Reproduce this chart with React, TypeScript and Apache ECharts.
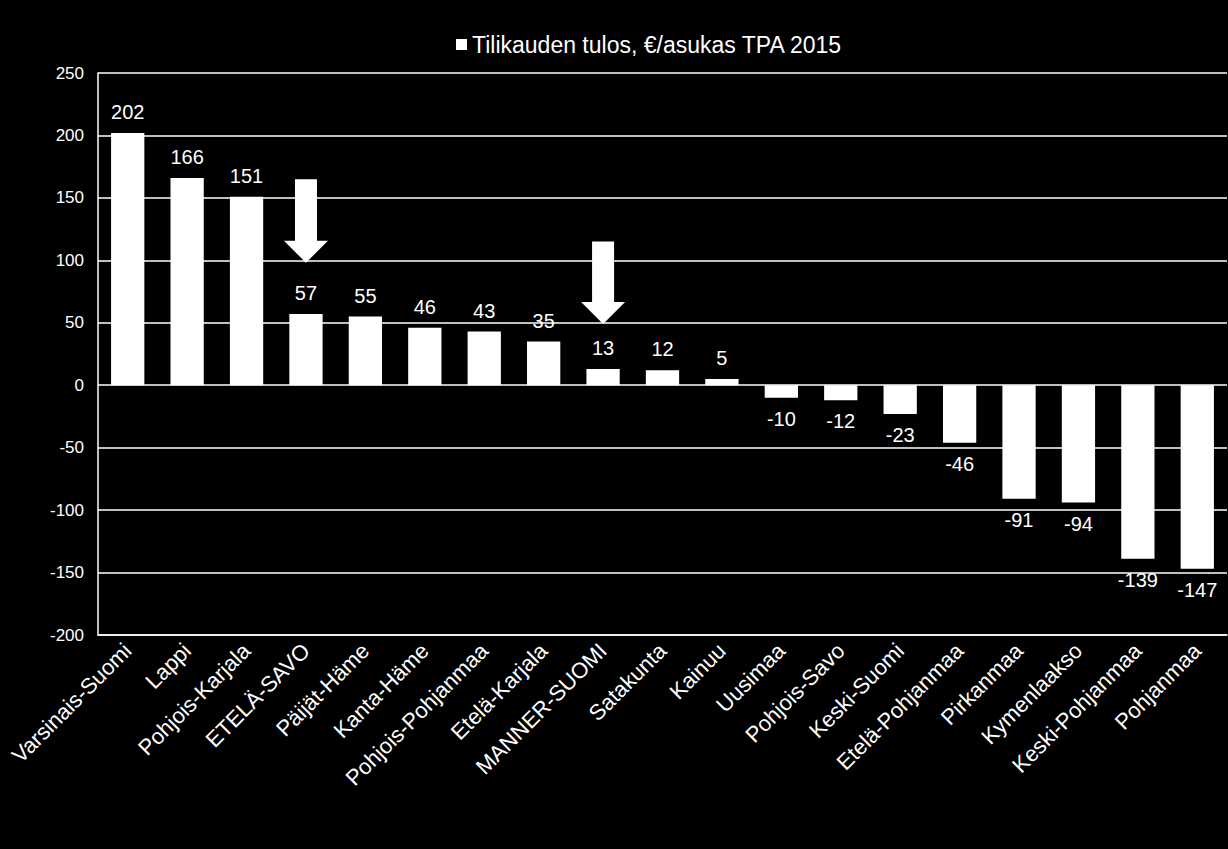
import React, { useEffect, useRef } from "react";
import * as echarts from "echarts";

const categories = [
  "Varsinais-Suomi", "Lappi", "Pohjois-Karjala", "ETELÄ-SAVO", "Päijät-Häme",
  "Kanta-Häme", "Pohjois-Pohjanmaa", "Etelä-Karjala", "MANNER-SUOMI", "Satakunta",
  "Kainuu", "Uusimaa", "Pohjois-Savo", "Keski-Suomi", "Etelä-Pohjanmaa",
  "Pirkanmaa", "Kymenlaakso", "Keski-Pohjanmaa", "Pohjanmaa",
];
const values = [202, 166, 151, 57, 55, 46, 43, 35, 13, 12, 5, -10, -12, -23, -46, -91, -94, -139, -147];
const seriesName = "Tilikauden tulos, €/asukas TPA 2015";
const yTicks = { min: -200, max: 250, interval: 50 };
// arrows: [category, top value, tip value]
const arrows: [string, number, number][] = [
  ["ETELÄ-SAVO", 165, 98],
  ["MANNER-SUOMI", 115, 49],
];

const FONT = "Liberation Sans, Arial, sans-serif";

export default function App() {
  const ref = useRef<HTMLDivElement>(null);
  useEffect(() => {
    if (!ref.current) return;
    const chart = echarts.init(ref.current, null, { renderer: "svg" });
    chart.setOption({
      animation: false,
      backgroundColor: "#000000",
      textStyle: { fontFamily: FONT },
      legend: {
        top: 28,
        left: 451,
        icon: "rect",
        itemWidth: 11,
        itemHeight: 11,
        itemGap: 6,
        textStyle: { color: "#ffffff", fontSize: 23, fontFamily: FONT },
        data: [seriesName],
      },
      grid: { left: 98, right: 1, top: 73, bottom: 214, containLabel: false },
      xAxis: {
        type: "category",
        data: categories,
        position: "bottom",
        axisLine: { show: true, onZero: false, lineStyle: { color: "#ffffff", width: 1.5 } },
        axisTick: { show: false },
        axisLabel: {
          interval: 0,
          rotate: 45,
          color: "#ffffff",
          fontSize: 22,
          fontFamily: FONT,
          margin: 12,
        },
      },
      yAxis: {
        type: "value",
        min: yTicks.min,
        max: yTicks.max,
        interval: yTicks.interval,
        axisLine: { show: true, lineStyle: { color: "#ffffff", width: 1.5 } },
        axisTick: { show: false },
        axisLabel: { color: "#ffffff", fontSize: 17, fontFamily: FONT, margin: 14 },
        splitLine: { show: true, lineStyle: { color: "#ffffff", width: 1.5 } },
      },
      series: [
        {
          name: seriesName,
          type: "bar",
          data: values.map((v) => ({
            value: v,
            label: { position: v >= 0 ? "top" : "bottom" },
          })),
          barWidth: "56%",
          itemStyle: { color: "#ffffff" },
          label: {
            show: true,
            color: "#ffffff",
            fontSize: 20,
            fontFamily: FONT,
            distance: 11,
          },
        },
      ],
    });

    const graphics: any[] = [];
    arrows.forEach(([cat, topV, tipV]) => {
      const top = chart.convertToPixel({ gridIndex: 0 }, [cat, topV]) as number[];
      const tip = chart.convertToPixel({ gridIndex: 0 }, [cat, tipV]) as number[];
      const cx = top[0];
      const shaftHalf = 11;
      const headHalf = 22;
      const headH = 22;
      const ty = top[1];
      const py = tip[1];
      graphics.push({
        type: "polygon",
        shape: {
          points: [
            [cx - shaftHalf, ty],
            [cx + shaftHalf, ty],
            [cx + shaftHalf, py - headH],
            [cx + headHalf, py - headH],
            [cx, py],
            [cx - headHalf, py - headH],
            [cx - shaftHalf, py - headH],
          ],
        },
        style: { fill: "#ffffff" },
        z: 100,
      });
    });
    chart.setOption({ graphic: graphics });

    return () => chart.dispose();
  }, []);
  return <div ref={ref} style={{ width: 1228, height: 849, position: "absolute", left: 0, top: 0 }} />;
}
